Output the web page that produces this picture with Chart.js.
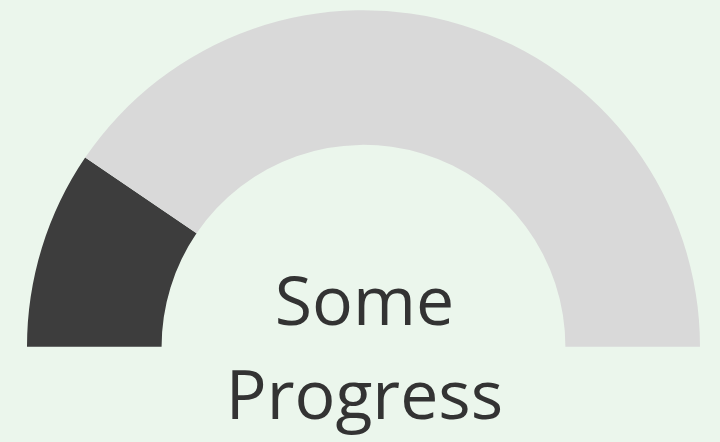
<!DOCTYPE html>
<html>
<head>
<meta charset="utf-8">
<script src="https://cdn.jsdelivr.net/npm/chart.js@4"></script>
<style>
    html, body { margin: 0; padding: 0; background: #ebf6ec; }
    #wrap { width: 720px; height: 442px; }
</style>
</head>
<body>
<div id="wrap"><canvas id="gaugeChart"></canvas></div>
<script>
const labels = ['Done', 'Remaining'];
const values = [19, 81];
const colors = ['#3d3d3d', '#d9d9d9'];
const centerLines = ['Some', 'Progress'];

// draws the status text under the arc
const centerText = {
    id: 'centerText',
    afterDraw(chart) {
        const arc = chart.getDatasetMeta(0).data[0];
        const ctx = chart.ctx;
        ctx.save();
        ctx.font = '68px "Open Sans"';
        ctx.fillStyle = '#333333';
        ctx.textAlign = 'center';
        ctx.textBaseline = 'alphabetic';
        ctx.fillText(centerLines[0], arc.x + 1, 325);
        ctx.fillText(centerLines[1], arc.x + 1, 419);
        ctx.restore();
    }
};

let gaugeChart;

function chart() {
    var ctx = document.getElementById('gaugeChart').getContext('2d');
    gaugeChart = new Chart(ctx, {
        type: 'doughnut',
        data: {
            labels: labels,
            datasets: [{
                data: values,
                backgroundColor: colors,
                borderWidth: 0
            }]
        },
        options: {
            responsive: true,
            maintainAspectRatio: false,
            animation: false,
            rotation: -90,
            circumference: 180,
            cutout: '60%',
            layout: {
                padding: { left: 27, right: 20, top: 10, bottom: 95 }
            },
            plugins: {
                legend: { display: false },
                tooltip: { enabled: false }
            }
        },
        plugins: [centerText]
    });
}

window.onload = function () {
    chart();
};
</script>
</body>
</html>
